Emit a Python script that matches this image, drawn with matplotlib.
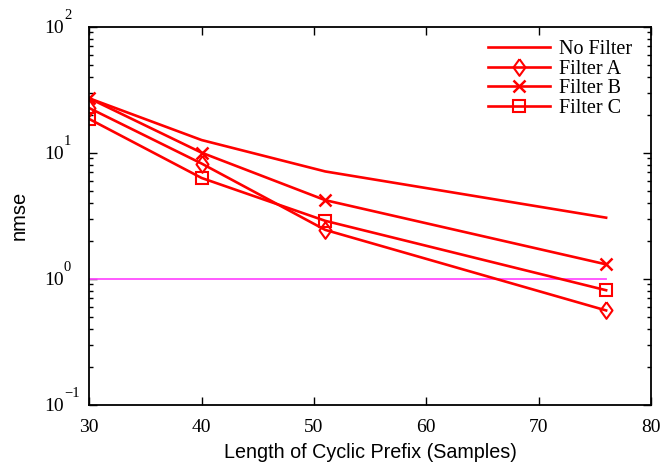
import numpy as np
import matplotlib
matplotlib.use("Agg")
import matplotlib.pyplot as plt

# data
cp_len = [30, 40, 51, 76]
no_filter = [27.0, 12.6, 7.1, 3.05]
filter_a = [22.6, 8.2, 2.44, 0.56]
filter_b = [27.0, 10.0, 4.2, 1.3]
filter_c = [18.5, 6.3, 2.88, 0.81]
ref_x = [30, 76]
ref_y = [1.0, 1.0]
y_exps = [-1, 0, 1, 2]

plt.rcParams['font.family'] = 'Liberation Serif'

# tall diamond like the matlab one
tall_diamond = [(0, 1), (0.72, 0), (0, -1), (-0.72, 0), (0, 1)]

fig = plt.figure(figsize=(6.63, 4.66), dpi=100)
ax = fig.add_axes([0.1347, 0.1315, 0.8473, 0.8112])

lw = 1.9
ax.plot(ref_x, ref_y, color='#ff4dff', lw=1.3)
ax.plot(cp_len, no_filter, color='red', lw=lw, label='No Filter')
ax.plot(cp_len, filter_a, color='red', lw=lw, marker=tall_diamond, ms=12, mfc='none', mew=1.5, label='Filter A')
ax.plot(cp_len, filter_b, color='red', lw=lw, marker='x', ms=8, mew=1.8, label='Filter B')
ax.plot(cp_len, filter_c, color='red', lw=lw, marker='s', ms=9, mfc='none', mew=1.5, label='Filter C')

ax.set_yscale('log')
ax.set_xlim(30, 80)
ax.set_ylim(0.1, 100)
ax.set_xticks([30, 40, 50, 60, 70, 80])
ax.set_yticks([10.0 ** e for e in y_exps])
ax.set_yticklabels(['10'] * len(y_exps))
ax.tick_params(which='both', direction='in', top=True, right=True, labelsize=14)
ax.tick_params(which='major', length=6, width=1)
ax.tick_params(which='minor', length=3, width=1)
ax.tick_params(axis='x', pad=10)
ax.tick_params(axis='y', pad=18.5)
for s in ax.spines.values():
    s.set_linewidth(1.3)

# matlab style exponents sitting above the "10"
for e in y_exps:
    ax.annotate(str(e).replace('-', '\u2212'), xy=(0, 10.0 ** e), xycoords=ax.get_yaxis_transform(),
                xytext=(-18.3, 3.5), textcoords='offset points', ha='left', va='bottom',
                fontsize=10.5, annotation_clip=False)

ax.set_xlabel('Length of Cyclic Prefix (Samples)', family='Liberation Sans', fontsize=14.2, labelpad=5)
ax.set_ylabel('nmse', family='Liberation Sans', fontsize=14.5, labelpad=11)

ax.legend(loc='upper right', bbox_to_anchor=(0.99, 1.0), frameon=False, fontsize=14.5,
          handlelength=3.1, labelspacing=0.03, handletextpad=0.45, borderaxespad=0.25)

fig.savefig('out.png', dpi=100)
